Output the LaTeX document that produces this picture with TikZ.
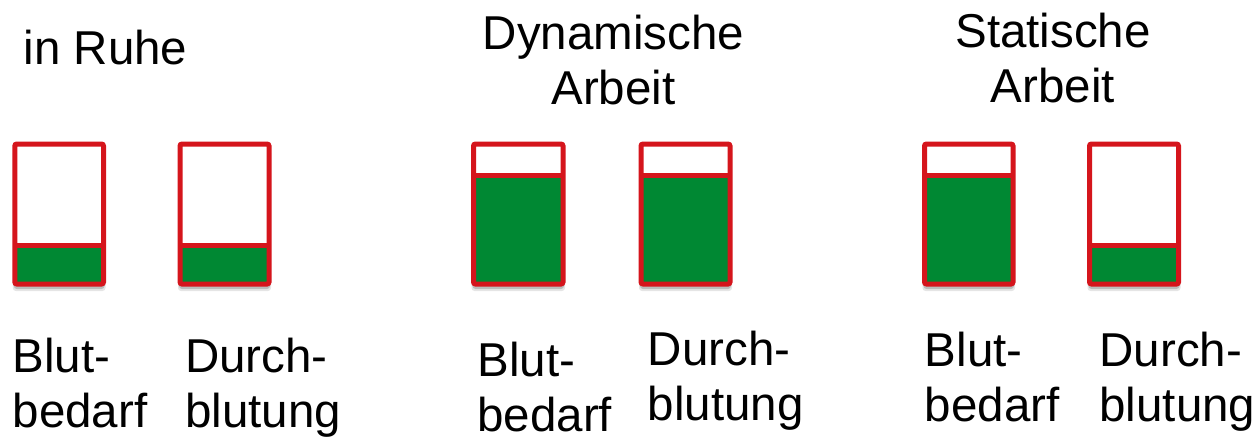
\documentclass[tikz,border=0pt]{standalone}
\usepackage{fontspec}
\setmainfont{Liberation Sans}
\definecolor{barred}{RGB}{213,21,28}
\definecolor{bargreen}{RGB}{0,136,51}
\tikzset{
  barframe/.style={draw=barred, line width=5pt, rounded corners=2pt, inner sep=0pt, outer sep=0pt, minimum height=140pt},
  divider/.style={draw=barred, line width=5pt},
  levelfill/.style={fill=bargreen},
  softshade/.style={fill=black, rounded corners=3pt},
  lbl/.style={inner sep=0pt, font=\fontsize{47.5}{55}\selectfont, align=left, anchor=base west},
  ttl/.style={inner sep=0pt, font=\fontsize{47.5}{55}\selectfont, align=center, anchor=base}
}
% #1 name, #2 left x, #3 right x, #4 divider y
\newcommand\levelbar[4]{%
  \fill[softshade, opacity=0.10] (#2-2,150) rectangle (#3+2,291);
  \fill[softshade, opacity=0.18] (#2-1,148) rectangle (#3+1,289);
  \fill[white] (#2,144) rectangle (#3,284);
  \fill[levelfill] (#2,#4) rectangle (#3,284);
  \node[barframe, minimum width={(#3-#2)*1pt}] (#1) at ({(#2+#3)/2},214) {};
  \draw[divider] (#1.west |- 0,#4) -- (#1.east |- 0,#4);
}
\begin{document}
\begin{tikzpicture}[x=1pt, y=-1pt]
  \useasboundingbox (0,0) rectangle (1260,439);
  % titles (base anchor = baseline of last line)
  \node[ttl, anchor=base west] (t1) at (23.5,64.5) {in Ruhe};
  \node[ttl] (t2) at (613.5,104) {Dynamische\\Arbeit};
  \node[ttl] (t3) at (1053,102) {Statische\\Arbeit};
  % bars
  \levelbar{b1}{14.8}{103.5}{245.7}
  \levelbar{b2}{180}{269}{245.7}
  \levelbar{b3}{473.5}{563}{175.3}
  \levelbar{b4}{641}{730}{175.3}
  \levelbar{b5}{924.5}{1013}{175}
  \levelbar{b6}{1089.5}{1178.5}{245.7}
  % labels
  \node[lbl] (l1) at (12.5,427.5) {Blut-\\bedarf};
  \node[lbl] (l2) at (185,427) {Durch-\\blutung};
  \node[lbl] (l3) at (477.3,431) {Blut-\\bedarf};
  \node[lbl] (l4) at (647.7,420) {Durch-\\blutung};
  \node[lbl] (l5) at (924.7,421) {Blut-\\bedarf};
  \node[lbl] (l6) at (1099.3,421) {Durch-\\blutung};
\end{tikzpicture}
\end{document}
